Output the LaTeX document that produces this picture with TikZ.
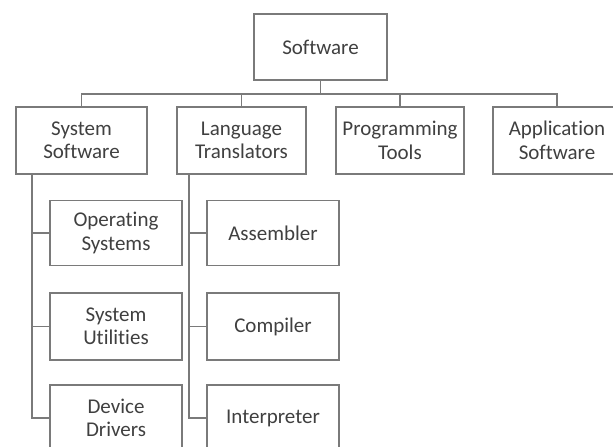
\documentclass[tikz,border=0pt]{standalone}
\usepackage{fontspec}
\setmainfont{Carlito}[Ligatures=NoCommon]
\definecolor{edge}{HTML}{7A7A7A}
\definecolor{ink}{HTML}{404040}
\tikzset{
  box/.style={draw=edge, line width=1.2pt, fill=white, align=center,
    text=ink, inner sep=0pt,
    font=\fontsize{21}{23.5}\selectfont},
  link/.style={draw=edge, line width=1.2pt}
}
\begin{document}
\begin{tikzpicture}[x=1pt,y=-1pt]
\useasboundingbox (0,0) rectangle (613,447);
\clip (0,0) rectangle (613,447);

% root
\node[box, minimum width=133pt, minimum height=66pt] (soft) at (320.5,47) {Software};

% second level
\node[box, minimum width=131pt, minimum height=67pt] (ss) at (81.5,140.5) {System\\Software};
\node[box, minimum width=129pt, minimum height=67pt] (lt) at (241.5,140.5) {Language\\Translators};
\node[box, minimum width=128pt, minimum height=67pt] (pt) at (400,140.5) {Programming\\Tools};
\node[box, minimum width=128pt, minimum height=67pt] (as) at (557,140.5) {Application\\Software};

% system software children
\node[box, minimum width=132pt, minimum height=65pt] (os) at (116,233) {Operating\\Systems};
\node[box, minimum width=132pt, minimum height=67pt] (su) at (116,326.5) {System\\Utilities};
\node[box, minimum width=132pt, minimum height=66pt] (dd) at (116,418) {Device\\Drivers};

% language translator children
\node[box, minimum width=132pt, minimum height=65pt] (asm) at (273,233) {Assembler};
\node[box, minimum width=132pt, minimum height=67pt] (cmp) at (273,326.5) {Compiler};
\node[box, minimum width=132pt, minimum height=66pt] (itp) at (273,418) {Interpreter};

% helper lines for the bus and the two rails
\coordinate (bus) at (0,94);
\coordinate (ssrail) at (32,0);
\coordinate (ltrail) at (189,0);

% root to second level
\draw[link] (soft.south) -- (soft.south |- bus);
\draw[link] (ss.north) |- (as.north |- bus) -- (as.north);
\draw[link] (lt.north) -- (lt.north |- bus);
\draw[link] (pt.north) -- (pt.north |- bus);

% system software rail
\draw[link] (ss.south -| ssrail) |- (dd.west);
\draw[link] (ssrail |- os.west) -- (os.west);
\draw[link] (ssrail |- su.west) -- (su.west);

% language translators rail
\draw[link] (lt.south -| ltrail) |- (itp.west);
\draw[link] (ltrail |- asm.west) -- (asm.west);
\draw[link] (ltrail |- cmp.west) -- (cmp.west);
\end{tikzpicture}
\end{document}
